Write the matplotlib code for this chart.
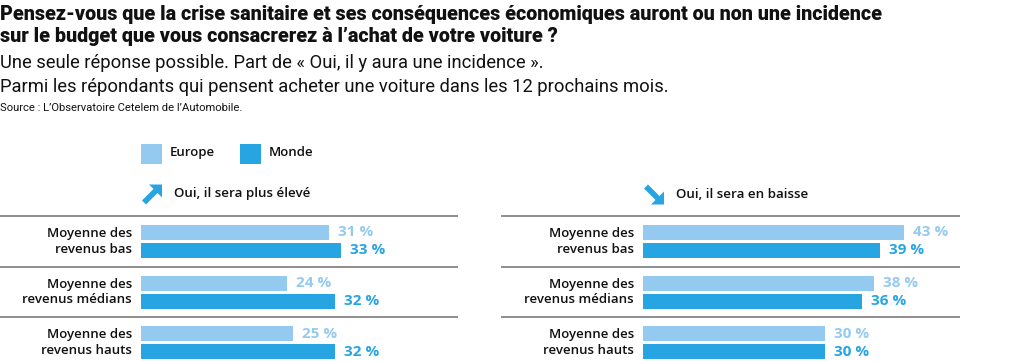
import matplotlib
matplotlib.use("Agg")
import matplotlib.pyplot as plt
from matplotlib.patches import Rectangle, Polygon
from matplotlib import font_manager

# ---------------- data ----------------
categories = ["Moyenne des\nrevenus bas", "Moyenne des\nrevenus médians", "Moyenne des\nrevenus hauts"]
series_names = ["Europe", "Monde"]
hausse_europe = [31, 24, 25]
hausse_monde = [33, 32, 32]
baisse_europe = [43, 38, 30]
baisse_monde = [39, 36, 30]
panel_titles = ["Oui, il sera plus élevé", "Oui, il sera en baisse"]

title = ("Pensez-vous que la crise sanitaire et ses conséquences économiques auront ou non une incidence\n"
         "sur le budget que vous consacrerez à l’achat de votre voiture ?")
subtitle1 = "Une seule réponse possible. Part de « Oui, il y aura une incidence »."
subtitle2 = "Parmi les répondants qui pensent acheter une voiture dans les 12 prochains mois."
source = "Source : L’Observatoire Cetelem de l’Automobile."

# ---------------- style ----------------
C_EU = "#94CAEF"
C_MO = "#27A5E2"
C_LINE = "#7a7a7a"
TXT = "#111111"

avail = {f.name for f in font_manager.fontManager.ttflist}
cond = "Liberation Sans Narrow" if "Liberation Sans Narrow" in avail else "Roboto"
body = "Open Sans"

W, H = 1020, 361
fig = plt.figure(figsize=(W / 100, H / 100), dpi=100)

def fx(px):
    return px / W

def fy(py):
    return 1 - py / H

# titles
lines = title.split("\n")
fig.text(fx(0), fy(20.5), lines[0], fontsize=14.2, fontweight=900, family=cond, color=TXT, va="baseline")
fig.text(fx(0), fy(41.5), lines[1], fontsize=14.2, fontweight=900, family=cond, color=TXT, va="baseline")
fig.text(fx(0), fy(67.5), subtitle1, fontsize=13.2, family=cond, color=TXT, va="baseline")
fig.text(fx(0), fy(91.5), subtitle2, fontsize=13.2, family=cond, color=TXT, va="baseline")
fig.text(fx(0), fy(111), source, fontsize=8.1, family=cond, color=TXT, va="baseline")

# legend
for x0, name, col in [(141, series_names[0], C_EU), (240, series_names[1], C_MO)]:
    fig.patches.append(Rectangle((fx(x0), fy(164)), fx(21), 20 / H, transform=fig.transFigure,
                                 facecolor=col, edgecolor="none"))
    fig.text(fx(x0 + 29), fy(153), name, fontsize=9.5, family=body, fontweight="semibold",
             color=TXT, va="center")

SCALE = 6.07  # px per percent
PITCH = 50.5  # px per group
Y_TOP = 216

def arrow_icon(x0, y0, up):
    head = [(20, 0), (7, 0), (20, 13)]
    shaft = [(0, 16), (4, 20), (16, 8), (12, 4)]
    for shape in (head, shaft):
        pts = []
        for dx, dy in shape:
            yy = dy if up else 20 - dy
            pts.append((fx(x0 + dx), fy(y0 + yy)))
        fig.patches.append(Polygon(pts, closed=True, transform=fig.transFigure,
                                   facecolor=C_MO, edgecolor="none"))

def panel(x_left, x_bar, x_right, eu, mo, ptitle, up):
    axw = x_right - x_left
    ax = fig.add_axes([fx(x_left), fy(H), fx(axw), (H - Y_TOP) / H])
    ax.set_xlim(-(x_bar - x_left) / SCALE, (x_right - x_bar) / SCALE)
    ax.set_ylim((H - Y_TOP) / PITCH, 0)
    ax.axis("off")
    n = len(categories)
    y_eu = [i + 16.5 / PITCH for i in range(n)]
    y_mo = [i + 34.5 / PITCH for i in range(n)]
    hgt = 15 / PITCH
    ax.barh(y_eu, eu, height=hgt, color=C_EU, edgecolor="none")
    ax.barh(y_mo, mo, height=hgt, color=C_MO, edgecolor="none")
    for i in range(n):
        ax.plot([ax.get_xlim()[0], ax.get_xlim()[1]], [i, i], color=C_LINE, lw=1.2,
                clip_on=False, solid_capstyle="butt")
        ax.text(-1.5, i + 25.5 / PITCH, categories[i], ha="right", va="center",
                fontsize=9.5, family=body, fontweight="semibold", color=TXT, linespacing=1.25)
        ax.text(eu[i] + 1.5, y_eu[i], f"{eu[i]} %", ha="left", va="center",
                fontsize=11, family=body, fontweight="bold", color=C_EU)
        ax.text(mo[i] + 1.5, y_mo[i], f"{mo[i]} %", ha="left", va="center",
                fontsize=11, family=body, fontweight="bold", color=C_MO)
    arrow_icon(x_bar + 1, 184.5, up)
    fig.text(fx(x_bar + 33), fy(194), ptitle, fontsize=9.6, family=body, fontweight="semibold",
             color=TXT, va="center")

panel(0, 141, 458, hausse_europe, hausse_monde, panel_titles[0], True)
panel(501, 643, 960, baisse_europe, baisse_monde, panel_titles[1], False)

fig.savefig("out.png", dpi=100)
